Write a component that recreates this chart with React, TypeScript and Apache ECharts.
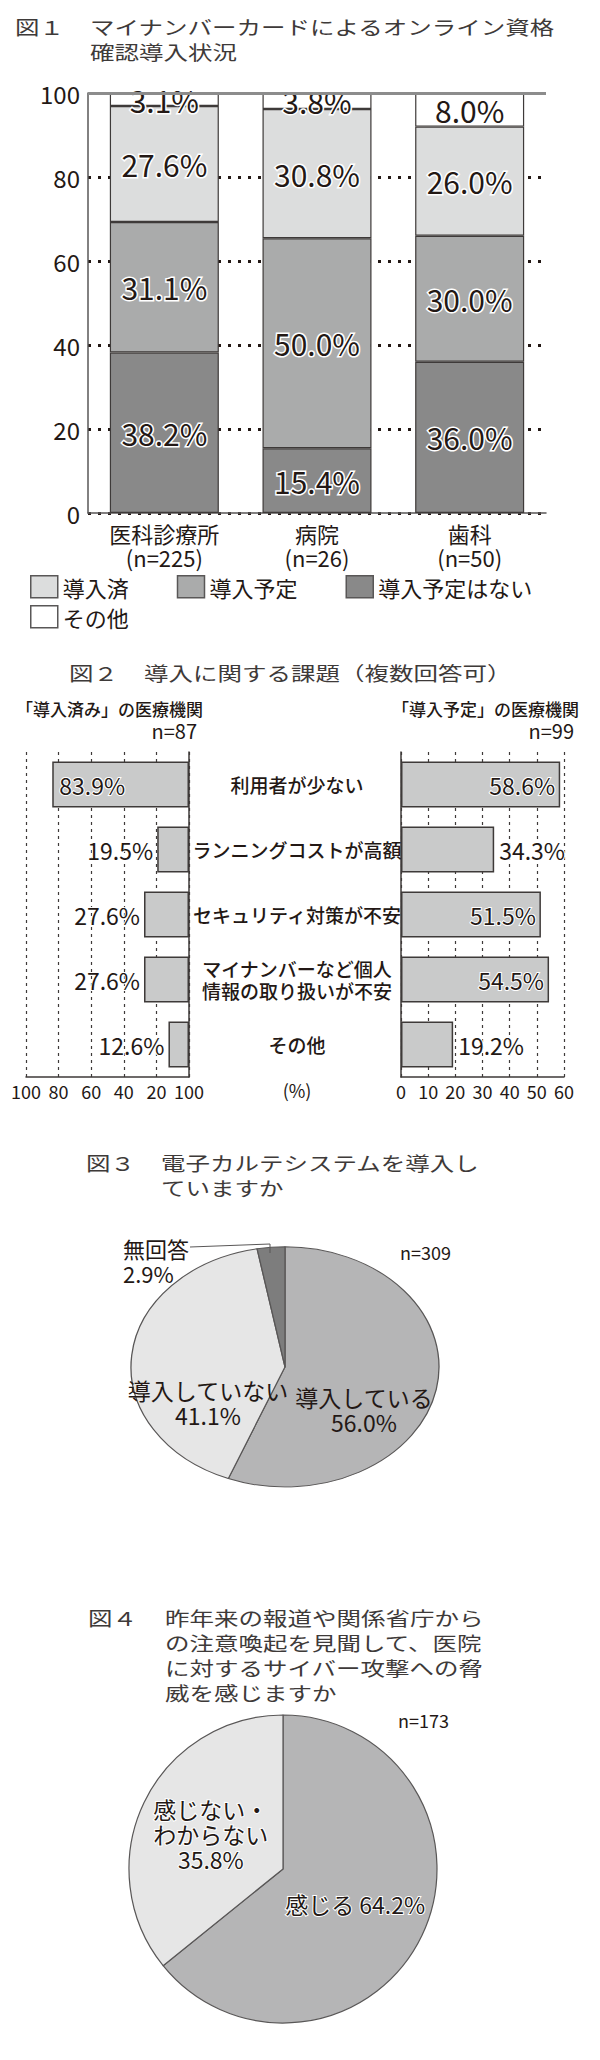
import React, { useEffect, useRef } from "react";
import * as echarts from "echarts";

const FONT = "'Noto Sans CJK JP', 'Noto Sans', sans-serif";
const TEXT = "#231815";
const TITLE = "#3e3a39";
const EDGE = "#3e3a39";

// ---------- 図1 ----------
const fig1Categories = ["医科診療所", "病院", "歯科"];
const fig1SampleSizes = ["(n=225)", "(n=26)", "(n=50)"];
const fig1NotPlanned = [38.2, 15.4, 36.0];
const fig1Planned = [31.1, 50.0, 30.0];
const fig1Done = [27.6, 30.8, 26.0];
const fig1Other = [3.1, 3.8, 8.0];
const fig1Names = ["導入予定はない", "導入予定", "導入済", "その他"];
const fig1Colors = ["#898989", "#aaabab", "#dcdddd", "#ffffff"];

// ---------- 図2 ----------
const fig2Issues = [
  "利用者が少ない",
  "ランニングコストが高額",
  "セキュリティ対策が不安",
  "マイナンバーなど個人\n情報の取り扱いが不安",
  "その他",
];
const fig2Introduced = [83.9, 19.5, 27.6, 27.6, 12.6];
const fig2Planned = [58.6, 34.3, 51.5, 54.5, 19.2];
const fig2LeftTickValues = [0, 20, 40, 60, 80, 100];
const fig2LeftTickLabels = ["100", "20", "40", "60", "80", "100"];

// ---------- 図3 ----------
const fig3Names = ["導入している", "導入していない", "無回答"];
const fig3Values = [56.0, 41.1, 2.9];
const fig3Colors = ["#b5b5b6", "#e6e6e6", "#7d7d7d"];

// ---------- 図4 ----------
const fig4Names = ["感じる", "感じない・わからない"];
const fig4Values = [64.2, 35.8];
const fig4Colors = ["#b5b5b6", "#e6e6e6"];

const pct = (v: number) => `${Number(v).toFixed(1)}%`;

function txt(
  text: string,
  x: number,
  y: number,
  size: number,
  opts: { align?: string; va?: string; fill?: string; lh?: number; weight?: any; sy?: number } = {}
) {
  const align = opts.align ?? "left";
  const va = opts.va ?? "middle";
  return {
    type: "text",
    x,
    y,
    scaleY: opts.sy ?? 1,
    silent: true,
    z: 100,
    style: {
      text,
      fill: opts.fill ?? TEXT,
      fontSize: size,
      fontFamily: FONT,
      fontWeight: opts.weight ?? "normal",
      lineHeight: opts.lh ?? Math.round(size * 1.1),
      align,
      textAlign: align,
      verticalAlign: va,
      textVerticalAlign: va,
    },
  };
}

// titles are set in a flattened (平体) style
const TSY = 0.78;
const title = (text: string, x: number, y: number, lines = 1) =>
  lines === 1
    ? txt(text, x, y, 24.5, { fill: TITLE, sy: TSY, lh: 32 })
    : txt(text, x, y - 12.5, 24.5, { fill: TITLE, sy: TSY, lh: 32, va: "top" });

function mainOption(): any {
  const fig1Data = [fig1NotPlanned, fig1Planned, fig1Done, fig1Other];
  const fig1Series = fig1Data.map((data, i) => ({
    type: "bar",
    name: fig1Names[i],
    stack: "fig1",
    xAxisIndex: 0,
    yAxisIndex: 0,
    data,
    barWidth: "71.4%",
    itemStyle: { color: fig1Colors[i], borderColor: EDGE, borderWidth: 1.2 },
    label: {
      show: true,
      position: "inside",
      formatter: (p: any) => pct(p.value),
      fontSize: 30,
      fontFamily: FONT,
      color: TEXT,
      textBorderColor: "#fff",
      textBorderWidth: 3,
    },
    emphasis: { disabled: true },
    markLine:
      i === 3
        ? {
            silent: true,
            symbol: "none",
            label: { show: false },
            lineStyle: { color: "#8c8c8c", width: 3, type: "solid" },
            data: [{ yAxis: 100 }],
          }
        : undefined,
  }));

  const fig2Label = {
    show: true,
    formatter: (p: any) => pct(p.value),
    fontSize: 23,
    fontFamily: FONT,
    color: TEXT,
    textBorderColor: "#fff",
    textBorderWidth: 2,
  };
  const fig2Item = { color: "#c9caca", borderColor: EDGE, borderWidth: 1.5 };

  const fig2Axis = {
    axisLine: { show: true, lineStyle: { color: EDGE, width: 1.5 } },
    axisTick: { show: false },
    splitLine: { show: true, lineStyle: { color: EDGE, width: 1.2, type: [3, 4] } },
  };

  const legendText = { fontSize: 22, color: TEXT, fontFamily: FONT, lineHeight: 22 };
  const legendBase = {
    left: 30,
    icon: "rect",
    padding: 0,
    itemWidth: 27,
    itemHeight: 22,
    itemGap: 48,
    selectedMode: false,
    textStyle: legendText,
    itemStyle: { borderColor: "#595757", borderWidth: 1.5 },
  };

  return {
    animation: false,
    textStyle: { fontFamily: FONT },
    legend: [
      { ...legendBase, data: ["導入済", "導入予定", "導入予定はない"], top: 575 },
      { ...legendBase, data: ["その他"], top: 605 },
    ],
    grid: [
      { left: 88, top: 93, width: 458, height: 420 },
      { left: 26, top: 752, width: 163, height: 325 },
      { left: 401, top: 752, width: 163, height: 325 },
    ],
    xAxis: [
      {
        type: "category",
        gridIndex: 0,
        data: fig1Categories,
        axisLine: { lineStyle: { color: "#595757", width: 1.5 } },
        axisTick: { show: false },
        axisLabel: {
          interval: 0,
          formatter: (v: string, i: number) => `{a|${v}}\n{b|${fig1SampleSizes[i]}}`,
          color: TEXT,
          margin: 7,
          rich: {
            a: { fontSize: 22, lineHeight: 25, color: TEXT, fontFamily: FONT },
            b: { fontSize: 22, lineHeight: 23, color: TEXT, fontFamily: FONT },
          },
        },
      },
      {
        type: "value",
        gridIndex: 1,
        inverse: true,
        min: 0,
        max: 100,
        interval: 20,
        ...fig2Axis,
        axisLabel: {
          fontSize: 18,
          color: TEXT,
          margin: 5,
          formatter: (v: number) => fig2LeftTickLabels[fig2LeftTickValues.indexOf(v)] ?? String(v),
        },
      },
      {
        type: "value",
        gridIndex: 2,
        min: 0,
        max: 60,
        interval: 10,
        ...fig2Axis,
        axisLabel: { fontSize: 18, color: TEXT, margin: 5 },
      },
    ],
    yAxis: [
      {
        type: "value",
        gridIndex: 0,
        min: 0,
        max: 100,
        interval: 20,
        axisLine: { show: true, lineStyle: { color: "#595757", width: 1.5 } },
        axisTick: { show: false },
        axisLabel: { fontSize: 24, color: TEXT, margin: 8 },
        splitLine: { show: true, lineStyle: { color: "#231815", width: 3, type: [3, 7] } },
      },
      {
        type: "category",
        gridIndex: 1,
        data: fig2Issues,
        inverse: true,
        position: "right",
        axisLine: { show: true, lineStyle: { color: EDGE, width: 1.5 } },
        axisTick: { show: false },
        axisLabel: { show: false },
      },
      {
        type: "category",
        gridIndex: 2,
        data: fig2Issues,
        inverse: true,
        position: "left",
        axisLine: { show: true, lineStyle: { color: EDGE, width: 1.5 } },
        axisTick: { show: false },
        axisLabel: {
          show: true,
          align: "center",
          margin: 104,
          fontSize: 19,
          fontWeight: 500,
          lineHeight: 22,
          color: TEXT,
        },
      },
    ],
    series: [
      ...fig1Series,
      {
        type: "bar",
        name: "導入済み",
        xAxisIndex: 1,
        yAxisIndex: 1,
        barWidth: 46,
        itemStyle: fig2Item,
        emphasis: { disabled: true },
        label: fig2Label,
        data: fig2Introduced.map((v) => ({
          value: v,
          label: v > 50 ? { position: "insideLeft", distance: 7 } : { position: "left", distance: 4 },
        })),
      },
      {
        type: "bar",
        name: "導入予定",
        xAxisIndex: 2,
        yAxisIndex: 2,
        barWidth: 46,
        itemStyle: fig2Item,
        emphasis: { disabled: true },
        label: fig2Label,
        data: fig2Planned.map((v) => ({
          value: v,
          label: v > 50 ? { position: "insideRight", distance: 5 } : { position: "right", distance: 5 },
        })),
      },
      {
        type: "pie",
        name: "図4",
        center: [283, 1869],
        radius: 154,
        startAngle: 90,
        clockwise: true,
        avoidLabelOverlap: false,
        emphasis: { disabled: true },
        itemStyle: { borderColor: "#595757", borderWidth: 1.2 },
        label: {
          show: true,
          position: "inside",
          fontSize: 23,
          lineHeight: 25,
          fontFamily: FONT,
          color: TEXT,
          textBorderColor: "#fff",
          textBorderWidth: 2,
          formatter: (p: any) =>
            p.dataIndex === 0
              ? `${p.name} ${pct(p.value)}`
              : `${String(p.name).replace("・", "・\n")}\n${pct(p.value)}`,
        },
        labelLine: { show: false },
        data: fig4Names.map((n, i) => ({ name: n, value: fig4Values[i], itemStyle: { color: fig4Colors[i] } })),
      },
    ],
    graphic: [
      // 図1
      title("図１", 15, 27),
      title("マイナンバーカードによるオンライン資格\n確認導入状況", 90, 27, 2),
      // 図2
      title("図２", 69, 673),
      title("導入に関する課題（複数回答可）", 144, 673),
      txt("「導入済み」の医療機関", 16, 708, 17, { weight: 500 }),
      txt("n=87", 197, 730, 20, { align: "right" }),
      txt("「導入予定」の医療機関", 392, 708, 17, { weight: 500 }),
      txt("n=99", 574, 730, 20, { align: "right" }),
      txt("(%)", 297, 1090, 18, { align: "center" }),
      // 図3
      title("図３", 86, 1163),
      title("電子カルテシステムを導入し\nていますか", 161, 1163, 2),
      txt("n=309", 400, 1252, 18),
      txt(`${fig3Names[0]}\n${pct(fig3Values[0])}`, 364, 1409.5, 23, { align: "center", lh: 25 }),
      txt(`${fig3Names[1]}\n${pct(fig3Values[1])}`, 208, 1402.5, 23, { align: "center", lh: 25 }),
      txt(`${fig3Names[2]}\n${pct(fig3Values[2])}`, 123, 1260.5, 22, { lh: 25 }),
      {
        type: "polyline",
        silent: true,
        z: 100,
        shape: { points: [[190, 1247], [270, 1244], [270, 1253]] },
        style: { stroke: "#595757", lineWidth: 1, fill: "none" },
      },
      // 図4
      title("図４", 88, 1618),
      title(
        "昨年来の報道や関係省庁から\nの注意喚起を見聞して、医院\nに対するサイバー攻撃への脅\n威を感じますか",
        165,
        1618,
        4
      ),
      txt("n=173", 398, 1720, 18),
    ],
  };
}

function pieOption(): any {
  return {
    animation: false,
    series: [
      {
        type: "pie",
        name: "図3",
        center: [285, 155],
        radius: 154,
        startAngle: 90,
        clockwise: true,
        emphasis: { disabled: true },
        itemStyle: { borderColor: "#595757", borderWidth: 1.3 },
        label: { show: false },
        labelLine: { show: false },
        data: fig3Names.map((n, i) => ({ name: n, value: fig3Values[i], itemStyle: { color: fig3Colors[i] } })),
      },
    ],
  };
}

export default function App() {
  const mainRef = useRef<HTMLDivElement>(null);
  const pieRef = useRef<HTMLDivElement>(null);
  useEffect(() => {
    document.body.style.margin = "0";
    const pie = echarts.init(pieRef.current!, null, { renderer: "svg" });
    const main = echarts.init(mainRef.current!, null, { renderer: "svg" });
    pie.setOption(pieOption());
    main.setOption(mainOption());
    return () => {
      main.dispose();
      pie.dispose();
    };
  }, []);
  return (
    <div style={{ position: "absolute", left: 0, top: 0, width: 600, height: 2060, background: "#fff" }}>
      <div
        ref={pieRef}
        style={{
          position: "absolute",
          left: 0,
          top: 1246,
          width: 600,
          height: 310,
          transform: "scaleY(0.78)",
          transformOrigin: "0 0",
          zIndex: 0,
        }}
      />
      <div ref={mainRef} style={{ position: "absolute", left: 0, top: 0, width: 600, height: 2060, zIndex: 1 }} />
    </div>
  );
}
